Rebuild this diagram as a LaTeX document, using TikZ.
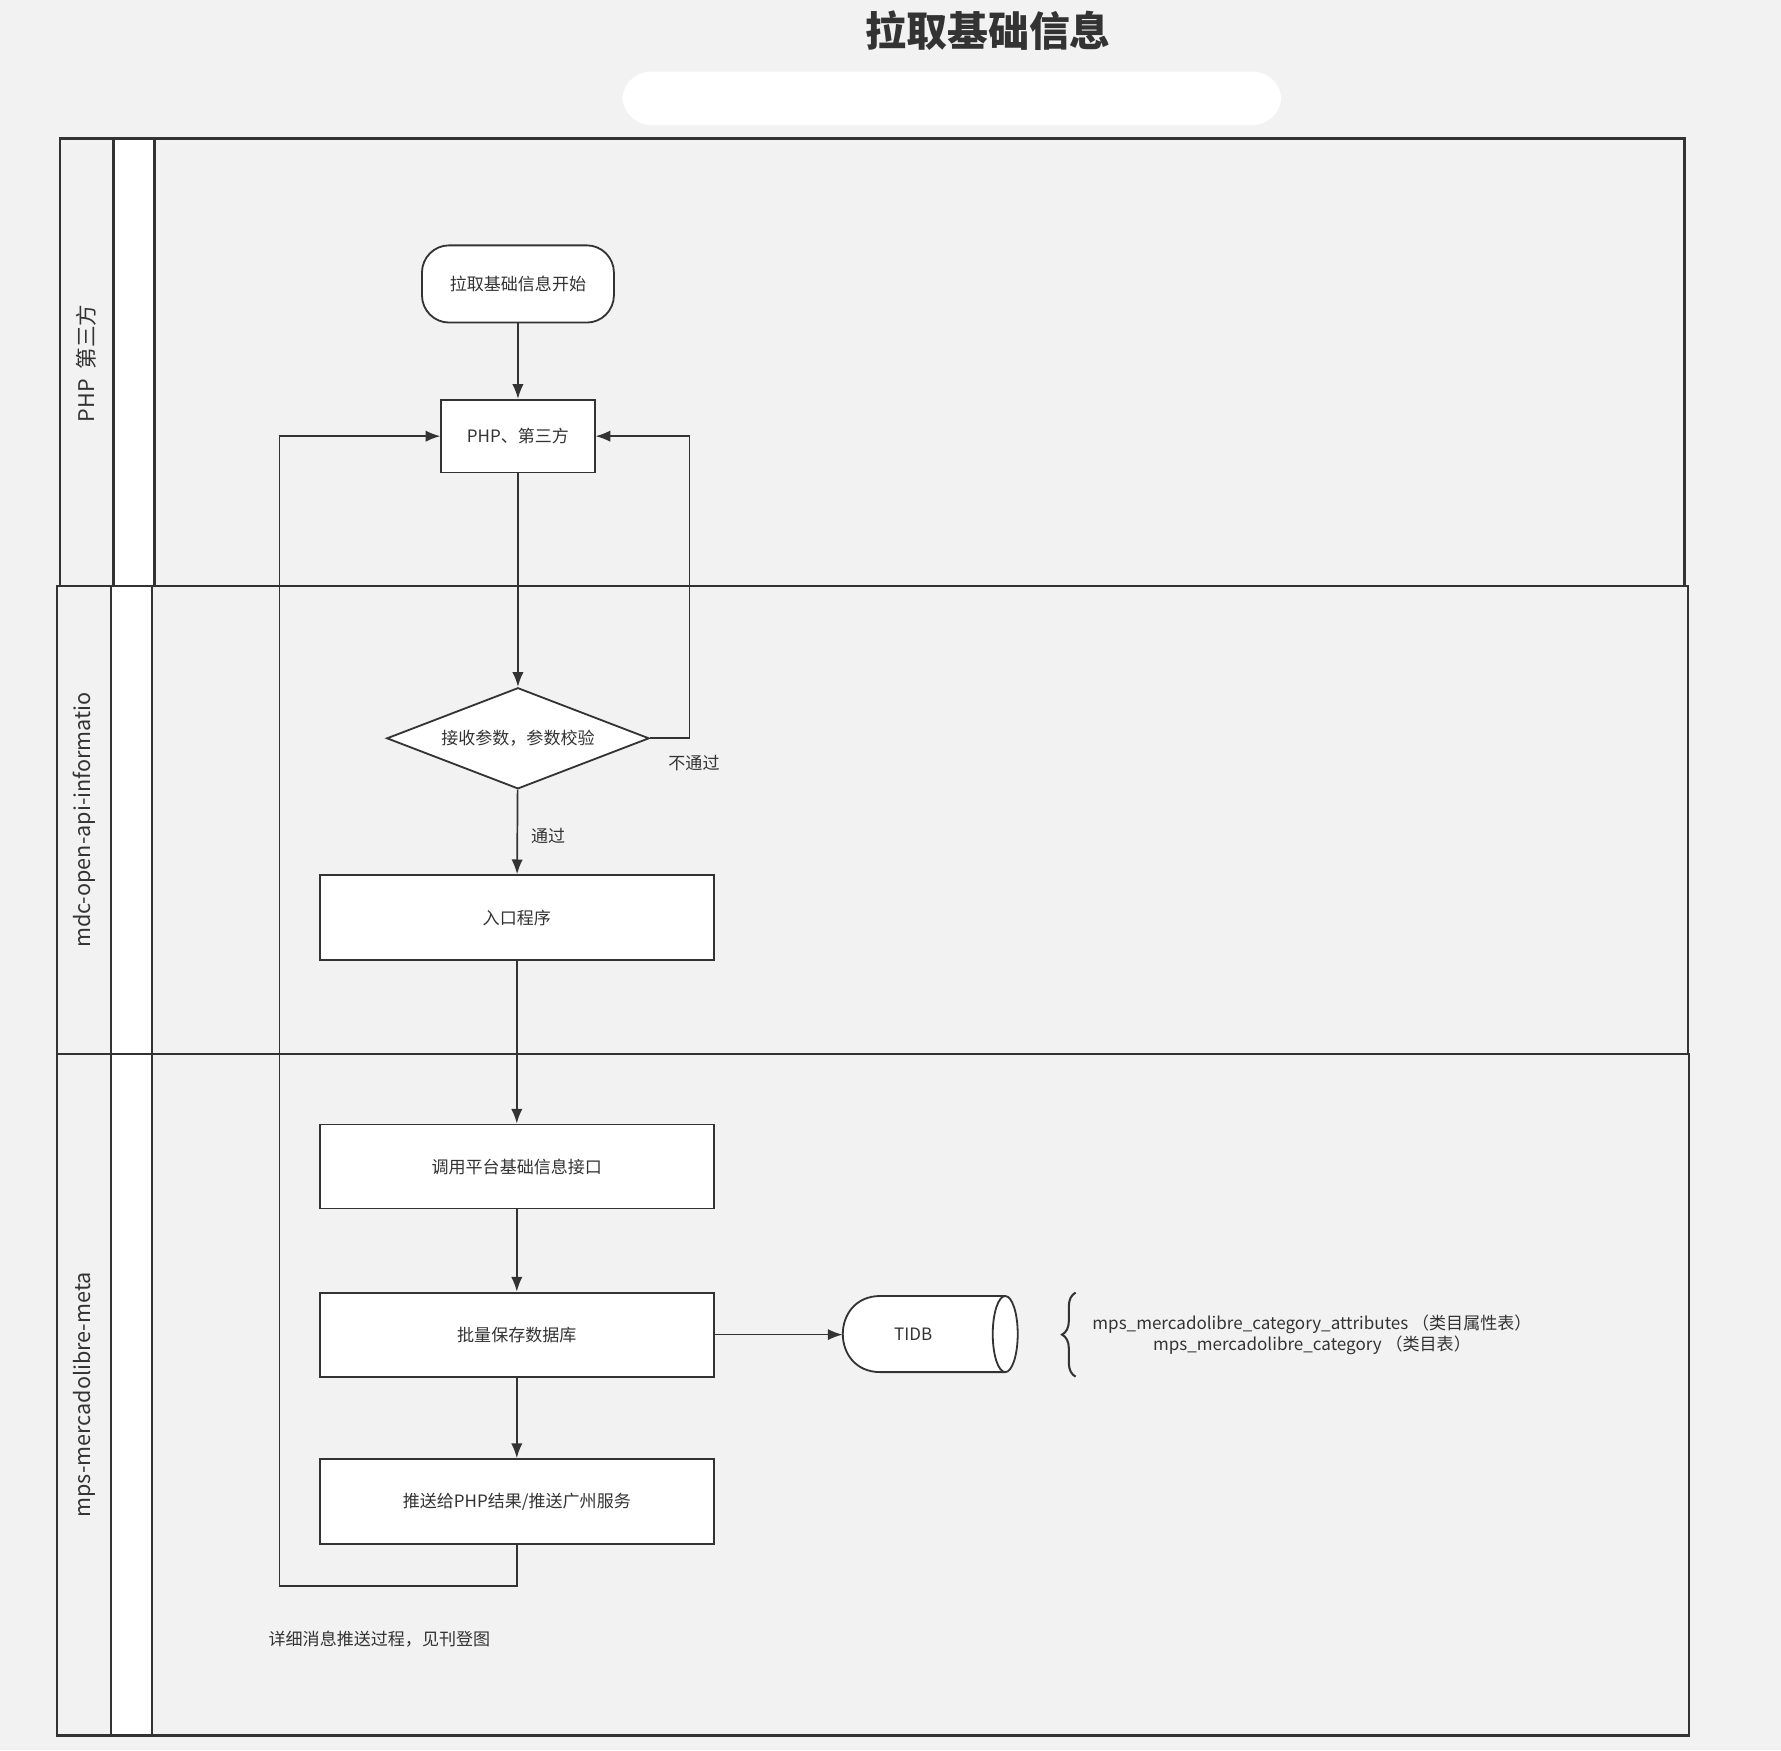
\documentclass[tikz,border=0pt]{standalone}
\usepackage{fontspec}
\setmainfont{Noto Sans CJK SC}
\usetikzlibrary{shapes.geometric,arrows.meta,decorations.pathreplacing}
\definecolor{ln}{HTML}{333333}
\definecolor{bg}{HTML}{F2F2F2}
\begin{document}
\begin{tikzpicture}[x=1pt,y=-1pt,
  every node/.style={text=ln,font=\fontsize{15}{18}\selectfont},
  box/.style={draw=ln,line width=1.6pt,fill=white,inner sep=0},
  ar/.style={draw=ln,line width=1.5pt,-{Latex[length=13pt,width=10pt]}},
  lane/.style={draw=ln,line width=2pt},
  lab/.style={rotate=90,font=\fontsize{19}{22}\selectfont}]
\useasboundingbox (0,0) rectangle (1568,1541);
\fill[bg] (0,0) rectangle (1568,1541);
\node (title) at (870,27) {\fontsize{36}{40}\selectfont\bfseries 拉取基础信息};
\fill[white,rounded corners=25pt] (548,63) rectangle (1128,110);
% lanes
\fill[white] (100,122) rectangle (136,516);
\fill[white] (98,516) rectangle (134,928);
\fill[white] (98,928) rectangle (134,1528);
\draw[lane] (53,122) rectangle (1483,516);
\draw[lane] (100,122) -- (100,516) (136,122) -- (136,516);
\draw[lane] (50,516) rectangle (1486,928);
\draw[lane] (98,516) -- (98,928) (134,516) -- (134,928);
\draw[lane] (50,928) rectangle (1487,1528);
\draw[lane] (98,928) -- (98,1528) (134,928) -- (134,1528);
\node[lab] (l1) at (76,320) {PHP\ \ 第三方};
\node[lab] (l2) at (74,722) {mdc-open-api-informatio};
\node[lab] (l3) at (74,1228) {mps-mercadolibre-meta};
% nodes
\node[box,rounded corners=24pt,minimum width=169pt,minimum height=68pt] (start) at (456,250) {拉取基础信息开始};
\node[box,minimum width=135pt,minimum height=64pt] (php) at (456,384) {PHP、第三方};
\node[box,diamond,aspect=2.6,minimum width=231pt,minimum height=89pt] (chk) at (456,650) {接收参数，参数校验};
\node[box,minimum width=347pt,minimum height=75pt] (entry) at (455,808) {入口程序};
\node[box,minimum width=347pt,minimum height=74pt] (call) at (455,1027) {调用平台基础信息接口};
\node[box,minimum width=347pt,minimum height=74pt] (save) at (455,1175) {批量保存数据库};
\node[box,minimum width=347pt,minimum height=75pt] (push) at (455,1322) {推送给PHP结果/推送广州服务};
% TIDB cylinder
\filldraw[draw=ln,fill=white,line width=1.6pt] (885,1141) -- (775,1141) .. controls (731,1141) and (731,1208) .. (775,1208) -- (885,1208);
\filldraw[draw=ln,fill=white,line width=1.6pt] (885,1174.5) ellipse [x radius=11, y radius=33.5];
\node[minimum width=154pt,minimum height=67pt,inner sep=0] (tidb) at (819,1175) {};
\node (tidbt) at (804,1175) {TIDB};
\coordinate (b1) at (947,1138); \coordinate (b2) at (947,1212);
\draw[ln,line width=1.8pt,decorate,decoration={brace,amplitude=12pt}] (b2) -- (b1);
\node[align=center] (tbl) at (1155,1175) {mps\_mercadolibre\_category\_attributes （类目属性表）\\mps\_mercadolibre\_category （类目表）};
\node[anchor=west] (note) at (233,1443) {详细消息推送过程，见刊登图};
% edges
\draw[ar] (start) -- (php);
\draw[ar] (php) -- (chk);
\draw[ar] (chk.east) -- (607,650) -- (607,384) -- (php.east);
\node (np) at (611,672) {不通过};
\draw[ar] (chk) -- (entry) node[pos=0.55,right=8pt] {通过};
\draw[ar] (entry) -- (call);
\draw[ar] (call) -- (save);
\draw[ar] (save) -- (tidb);
\draw[ar] (save) -- (push);
\draw[ar] (push.south) -- (455,1396) -- (246,1396) -- (246,384) -- (php.west);
\end{tikzpicture}
\end{document}
